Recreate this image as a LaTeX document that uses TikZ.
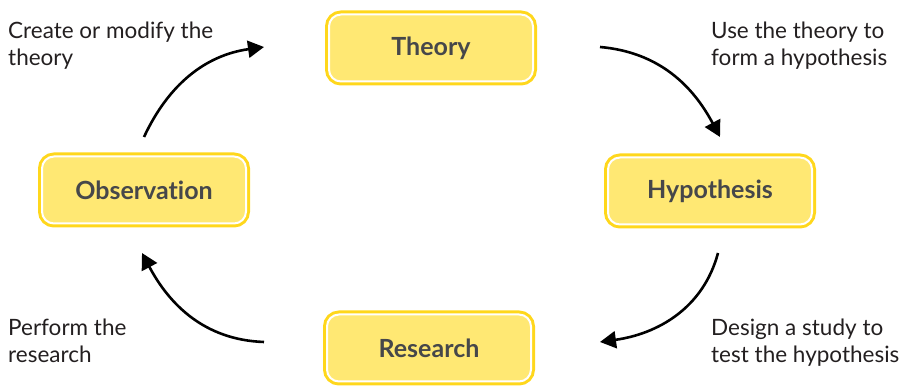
\documentclass[tikz,border=0pt]{standalone}
\usepackage{fontspec}
\setmainfont{Lato}[Ligatures=NoCommon]
\usetikzlibrary{arrows.meta}

\definecolor{boxfill}{HTML}{FFE873}
\definecolor{boxedge}{HTML}{FFD71C}
\definecolor{boxtext}{HTML}{46474A}
\definecolor{labeltext}{HTML}{231F20}

\tikzset{
  stagebox/.style={
    preaction={draw=boxedge, line width=8pt},
    draw=white, line width=2pt, fill=boxfill,
    rounded corners=12pt,
    minimum width=204pt, minimum height=67pt,
    text=boxtext, font=\fontsize{25pt}{29pt}\selectfont\bfseries,
    inner sep=0pt
  },
  steplabel/.style={
    anchor=north west, align=left, inner sep=0pt,
    text=labeltext, font=\fontsize{22.5pt}{27pt}\selectfont
  },
  cyclearrow/.style={
    line width=2.6pt, draw=black,
    -{Triangle[length=16pt, width=17pt]}
  }
}

\begin{document}
\begin{tikzpicture}[x=1pt, y=1pt]
  \useasboundingbox (0,0) rectangle (904,387);

  % the four stages of the cycle
  \node[stagebox] (theory)      at (431,339) {Theory};
  \node[stagebox] (hypothesis)  at (710,196) {Hypothesis};
  \node[stagebox] (research)    at (429,39)  {Research};
  \node[stagebox] (observation) at (144,197) {Observation};

  % descriptions of each transition
  \node[steplabel] (lblcreate)  at (8,365)   {Create or modify the\\theory};
  \node[steplabel] (lbluse)     at (711,365) {Use the theory to\\form a hypothesis};
  \node[steplabel] (lbldesign)  at (711,68)  {Design a study to\\test the hypothesis};
  \node[steplabel] (lblperform) at (8,68)    {Perform the\\research};

  % arrow end points around the cycle
  \coordinate (a1s) at (144,250);
  \coordinate (a1e) at (264,340);
  \coordinate (a2s) at (600,340);
  \coordinate (a2e) at (720,250);
  \coordinate (a3s) at (718,134);
  \coordinate (a3e) at (600,45);
  \coordinate (a4s) at (264,45);
  \coordinate (a4e) at (142,134);

  \draw[cyclearrow] (a1s) to[out=65,  in=188] (a1e);
  \draw[cyclearrow] (a2s) to[out=-5,  in=118] (a2e);
  \draw[cyclearrow] (a3s) to[out=-105, in=8]  (a3e);
  \draw[cyclearrow] (a4s) to[out=178, in=-62] (a4e);
\end{tikzpicture}
\end{document}
